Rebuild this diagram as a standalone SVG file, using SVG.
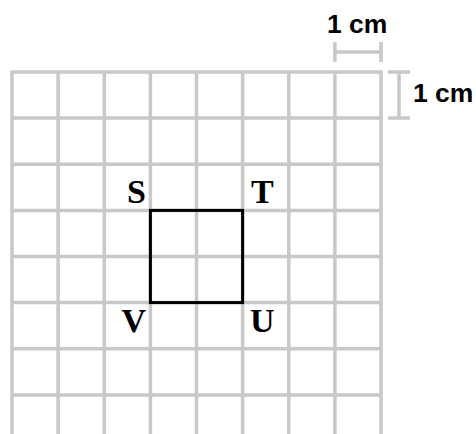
<svg xmlns="http://www.w3.org/2000/svg" width="476" height="434" viewBox="0 0 476 434">
<style>
.g{stroke:#c8c8c8;stroke-width:3.5;fill:none}
.sq{stroke:#000;stroke-width:3;fill:none}
.lbl{font-family:"Liberation Serif",serif;font-weight:bold;font-size:34px;fill:#000}
.dim{font-family:"Liberation Sans",Arial,sans-serif;font-weight:bold;font-size:26.5px;fill:#000}
</style>
<rect width="476" height="434" fill="#fff"/>
<g id="grid" class="g">
<path d="M12 72V434M58.1 72V434M104.3 72V434M150.4 72V434M196.5 72V434M242.6 72V434M288.8 72V434M334.9 72V434M381 72V434"/>
<path d="M10.25 72H382.75M12 118.1H381M12 164.3H381M12 210.4H381M12 256.5H381M12 302.6H381M12 348.8H381M12 394.9H381"/>
</g>
<g id="dim-h">
<path class="g" d="M334.9 42V62M381 42V62M334.9 52H381"/>
<text class="dim" x="327" y="33">1 cm</text>
</g>
<g id="dim-v">
<path class="g" d="M388 72H410M388 118.1H410M399 72V118.1"/>
<text class="dim" x="413" y="102">1 cm</text>
</g>
<g id="square">
<rect class="sq" x="150.4" y="210.4" width="92.2" height="92.2"/>
</g>
<g id="S"><text class="lbl" x="146" y="203" text-anchor="end">S</text></g>
<g id="T"><text class="lbl" x="251" y="203">T</text></g>
<g id="V"><text class="lbl" x="146" y="332" text-anchor="end">V</text></g>
<g id="U"><text class="lbl" x="250" y="332">U</text></g>
</svg>
